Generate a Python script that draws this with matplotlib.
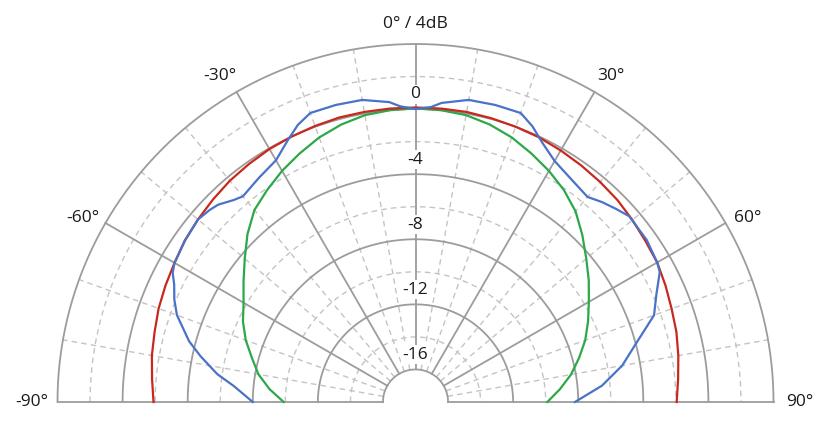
import numpy as np
import matplotlib
matplotlib.use("Agg")
import matplotlib.pyplot as plt

plt.rcParams["font.family"] = ["Open Sans", "DejaVu Sans"]

# dB scale of the plot
r_min, r_max = -18, 4
ring_levels = [-16, -12, -8, -4, 0, 4]
ring_labels = ["-16", "-12", "-8", "-4", "0"]
dashed_levels = [-14, -10, -6, -2, 2]
angle_labels = {-90: "-90°", -60: "-60°", -30: "-30°", 0: "0° / 4dB", 30: "30°", 60: "60°", 90: "90°"}

# red curve
red_angles = [-90, -85, -80, -75, -70, -65, -60, -55, -50, -45, -40, -35, -30, -25, -20, -15, -10, -5,
              0, 5, 10, 15, 20, 25, 30, 35, 40, 45, 50, 55, 60, 65, 70, 75, 80, 85, 90]
red_db = [-1.9, -1.75, -1.55, -1.4, -1.2, -1.05, -0.9, -0.7, -0.55, -0.4, -0.25, -0.15, -0.05, 0.0, 0.05, 0.1, 0.1, 0.1,
          0.1, 0.1, 0.1, 0.05, 0.0, -0.05, -0.15, -0.25, -0.35, -0.45, -0.6, -0.75, -0.85, -1.05, -1.25, -1.4, -1.6, -1.8, -1.95]

# green curve
green_angles = red_angles
green_db = [-9.9, -9.0, -8.2, -7.6, -6.9, -6.3, -5.8, -5.1, -4.3, -3.4, -2.6, -2.1, -1.6, -1.15, -0.7, -0.35, -0.1, 0.0,
            0.05, 0.0, -0.1, -0.35, -0.7, -1.15, -1.6, -2.1, -2.7, -3.5, -4.3, -5.0, -5.7, -6.3, -6.9, -7.6, -8.3, -9.1, -9.9]

# blue curve
blue_angles = [-90, -85, -82, -78, -75, -70, -67, -64, -62, -60, -55, -50, -47, -45, -42, -40, -35, -30, -26, -23,
               -20, -15, -10, -5, -3, 0, 3, 5, 10, 15, 20, 23, 26, 30, 35, 40, 43, 46, 49, 55, 60, 62, 66, 70, 76,
               80, 85, 90]
blue_db = [-8.0, -6.8, -5.7, -4.5, -3.6, -2.4, -1.9, -1.5, -1.1, -0.9, -0.7, -0.55, -0.7, -0.85, -1.3, -1.5, -1.2, -0.85,
           -0.1, 0.5, 0.9, 0.9, 0.85, 0.5, 0.2, 0.0, 0.15, 0.45, 0.85, 0.9, 0.9, 0.4, -0.25, -0.9, -1.3, -1.55, -1.2,
           -0.9, -0.6, -0.65, -0.85, -1.0, -1.8, -2.4, -4.2, -5.1, -6.5, -8.2]

solid_grey = "#9c9c9c"
dash_grey = "#c4c4c4"
dash = (0, (4, 3))

fig = plt.figure(figsize=(8.26, 4.29), dpi=100)
# the half-circle wedge is centred vertically inside a square box
ax = fig.add_axes([57.5 / 826, -152 / 429, 716 / 826, 716 / 429], projection="polar")
ax.set_theta_zero_location("N")
ax.set_theta_direction(-1)
ax.set_thetamin(-90)
ax.set_thetamax(90)
ax.set_ylim(r_min, r_max)
ax.axis("off")

th = np.radians(np.linspace(-90, 90, 361))
# dashed rings and spokes
for lv in dashed_levels:
    ax.plot(th, np.full_like(th, lv), color=dash_grey, lw=1.0, ls=dash, zorder=1, clip_on=False)
for a in range(-80, 90, 10):
    if a % 30 != 0:
        ax.plot([np.radians(a)] * 2, [-16, 4], color=dash_grey, lw=1.0, ls=dash, zorder=1, clip_on=False)
# solid rings and spokes
for lv in ring_levels:
    ax.plot(th, np.full_like(th, lv), color=solid_grey, lw=1.3, zorder=2, clip_on=False)
for a in range(-90, 91, 30):
    ax.plot([np.radians(a)] * 2, [-16, 4], color=solid_grey, lw=1.3, zorder=2, clip_on=False)

# curves
ax.plot(np.radians(green_angles), green_db, color="#2ca84a", lw=1.6, zorder=4, clip_on=False)
ax.plot(np.radians(red_angles), red_db, color="#c8281e", lw=1.6, zorder=5, clip_on=False)
ax.plot(np.radians(blue_angles), blue_db, color="#4a72c8", lw=1.6, zorder=6, clip_on=False)

# ring labels along 0 deg
for lv, txt in zip(ring_levels, ring_labels):
    ax.text(0, lv + 0.9, txt, ha="center", va="center", fontsize=12.5, color="#1a1a1a", zorder=7,
            bbox=dict(facecolor="white", edgecolor="none", pad=1.0))

# angle labels outside the outer ring
for a, txt in angle_labels.items():
    if abs(a) == 90:
        pos, r = a, 5.6
    elif a == 0:
        pos, r = a, 5.2
    else:
        pos, r = a + np.sign(a) * 1.0, 5.35
    ax.text(np.radians(pos), r, txt, ha="center", va="center", fontsize=12.5, color="#1a1a1a", clip_on=False)

fig.savefig("out.png", dpi=100)
